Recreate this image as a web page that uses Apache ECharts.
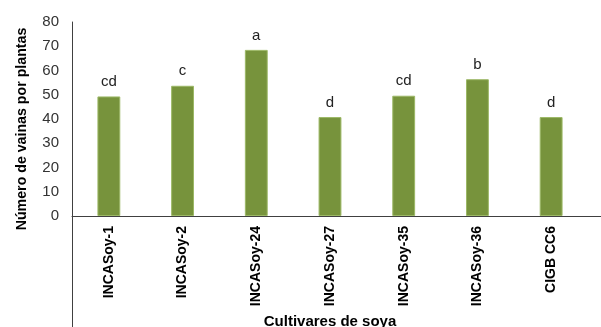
<!DOCTYPE html>
<html>
<head>
<meta charset="utf-8">
<script src="https://cdn.jsdelivr.net/npm/echarts@6/dist/echarts.min.js"></script>
<style>
  html, body { margin: 0; padding: 0; background: #ffffff; }
  #chart { width: 601px; height: 327px; }
</style>
</head>
<body>
<div id="chart"></div>
<script>
// Cultivars and mean pods per plant, with the significance letters shown above each bar
const cultivares = ['INCASoy-1', 'INCASoy-2', 'INCASoy-24', 'INCASoy-27', 'INCASoy-35', 'INCASoy-36', 'CIGB CC6'];
const vainas = [49.3, 53.7, 68.5, 40.8, 49.6, 56.4, 40.8];
const letras = ['cd', 'c', 'a', 'd', 'cd', 'b', 'd'];
const tituloY = 'Número de vainas por plantas';

const chart = echarts.init(document.getElementById('chart'), null, { renderer: 'canvas' });
const axisColor = '#404040';
const font = 'Arial, "Liberation Sans", sans-serif';

chart.setOption({
  animation: false,
  backgroundColor: '#ffffff',
  grid: { left: 72, right: 13, top: 22, bottom: 111, containLabel: false, outerBoundsMode: 'none' },
  xAxis: {
    type: 'category',
    data: cultivares,
    name: 'Cultivares de soya',
    nameLocation: 'middle',
    nameGap: 98,
    nameTextStyle: { fontFamily: font, fontWeight: 'bold', fontSize: 15, color: '#000' },
    axisLine: { show: true, lineStyle: { color: axisColor, width: 1 } },
    axisTick: { show: false },
    axisLabel: {
      rotate: 90, interval: 0, margin: 10,
      fontFamily: font, fontWeight: 'bold', fontSize: 14, color: '#000'
    }
  },
  yAxis: {
    type: 'value',
    min: 0, max: 80, interval: 10,
    axisLine: { show: true, lineStyle: { color: axisColor, width: 1 } },
    axisTick: { show: false },
    splitLine: { show: false },
    axisLabel: { margin: 13, fontFamily: font, fontSize: 15, color: '#333' }
  },
  series: [{
    type: 'bar',
    data: vainas,
    barWidth: '31%',
    itemStyle: { color: '#77933C', borderColor: '#9cb866', borderWidth: 1 },
    label: {
      show: true, position: 'top', distance: 7,
      fontFamily: font, fontSize: 15, color: '#222',
      formatter: p => letras[p.dataIndex]
    }
  }]
});

// Extend the axis lines past the plot area (the vertical one down to the bottom edge,
// the horizontal one out to the right edge) and place the vertical axis title.
const step = chart.convertToPixel({ xAxisIndex: 0 }, 1) - chart.convertToPixel({ xAxisIndex: 0 }, 0);
const yAxisX = chart.convertToPixel({ xAxisIndex: 0 }, 0) - step / 2;
const lastX = chart.convertToPixel({ xAxisIndex: 0 }, cultivares.length - 1) + step / 2;
const zeroY = chart.convertToPixel({ yAxisIndex: 0 }, 0);
const topY = chart.convertToPixel({ yAxisIndex: 0 }, 80);
chart.setOption({
  graphic: [
    { type: 'line', shape: { x1: yAxisX + 0.5, y1: zeroY, x2: yAxisX + 0.5, y2: chart.getHeight() }, style: { stroke: axisColor, lineWidth: 1 }, silent: true },
    { type: 'line', shape: { x1: lastX, y1: zeroY + 0.5, x2: chart.getWidth(), y2: zeroY + 0.5 }, style: { stroke: axisColor, lineWidth: 1 }, silent: true },
    {
      type: 'text', x: yAxisX - 50, y: (topY + zeroY) / 2 + 10, rotation: Math.PI / 2, silent: true,
      style: { text: tituloY, align: 'center', verticalAlign: 'middle', fill: '#000', font: 'bold 14.2px ' + font }
    }
  ]
});
</script>
</body>
</html>
